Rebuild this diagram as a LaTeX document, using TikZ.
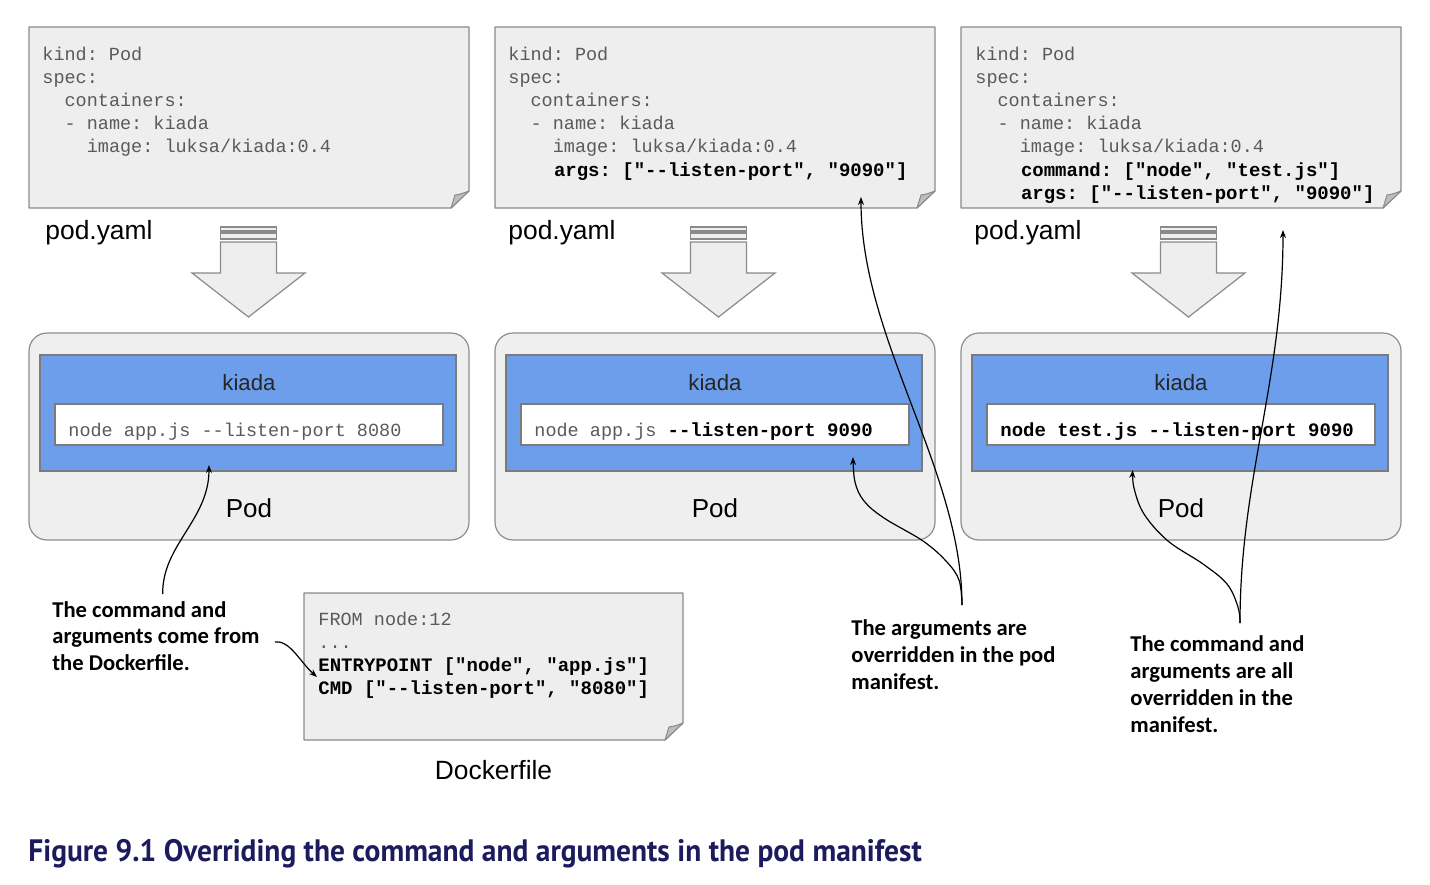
\documentclass[tikz,border=0pt]{standalone}
\usepackage{fontspec}
\setmainfont{Liberation Sans}
\setmonofont{Liberation Mono}
\newfontfamily\notefont{Carlito}
\newfontfamily\capfont[FakeStretch=0.95]{PT Sans}
\usetikzlibrary{arrows.meta}
\definecolor{docfill}{HTML}{EEEEEE}
\definecolor{docline}{HTML}{8A8A8A}
\definecolor{foldfill}{HTML}{BDBDBD}
\definecolor{podfill}{HTML}{EFEFEF}
\definecolor{podline}{HTML}{8E8E8E}
\definecolor{kblue}{HTML}{6D9EEB}
\definecolor{kline}{HTML}{7B7B7B}
\definecolor{codegray}{HTML}{5A5A5A}
\definecolor{capblue}{HTML}{1B1B5E}
\tikzset{
  docbox/.style={fill=docfill, draw=docline, line width=0.6pt, line join=round},
  foldbox/.style={fill=foldfill, draw=docline, line width=0.5pt, line join=round},
  arrowbox/.style={fill=docfill, draw=docline, line width=0.6pt},
  podbox/.style={fill=podfill, draw=podline, line width=0.6pt, rounded corners=9pt},
  bluebox/.style={fill=kblue, draw=kline, line width=0.6pt},
  whitebox/.style={fill=white, draw=kline, line width=0.6pt},
  code/.style={font=\ttfamily\fontsize{9.25}{11}\selectfont, text=codegray, anchor=base west, inner sep=0pt},
  bcode/.style={code, text=black, font=\ttfamily\bfseries\fontsize{9.5}{11}\selectfont},
  lbl/.style={font=\fontsize{13.2}{15}\selectfont, inner sep=0pt},
  kname/.style={font=\fontsize{11.1}{13}\selectfont, text=black!85, inner sep=0pt},
  podname/.style={font=\fontsize{13}{15}\selectfont, inner sep=0pt},
  note/.style={font=\notefont\bfseries\fontsize{11.3}{13.5}\selectfont, anchor=base west, inner sep=0pt},
  conn/.style={-{Stealth[length=4pt,width=3pt]}, line width=0.6pt, black},
}
\newcommand\docshape[4]{%
  \draw[docbox] (#1,#2) -- (#3,#2) -- (#3,#4-17) -- (#3-18,#4) -- (#1,#4) -- cycle;
  \draw[foldbox] (#3-18,#4) .. controls (#3-16,#4-7) .. (#3-14,#4-13) .. controls (#3-8,#4-14) .. (#3,#4-17) -- cycle;}
\newcommand\blockarrow[1]{%
  \draw[arrowbox] (#1-28,227) rectangle (#1+28,231);
  \draw[arrowbox] (#1-28,233) rectangle (#1+28,239);
  \draw[arrowbox] (#1-28,242) -- (#1+28,242) -- (#1+28,273) -- (#1+56.5,273) -- (#1,317) -- (#1-56.5,273) -- (#1-28,273) -- cycle;}
\newcommand\podshape[1]{%
  \draw[podbox] (#1,333) rectangle (#1+440,540);
  \draw[bluebox] (#1+11,355) rectangle (#1+427,471);
  \draw[whitebox] (#1+26,404) rectangle (#1+414,445);}
\begin{document}
\begin{tikzpicture}[x=0.5pt,y=-0.5pt]
\useasboundingbox (0,0) rectangle (1430,884);
% ---------- manifests ----------
\docshape{29}{27}{469}{208}
\docshape{495}{27}{935}{208}
\docshape{961}{27}{1401}{208}
\node[code] (d1l1) at (42,60) {kind: Pod};
\node[code] (d1l2) at (42,83.2) {spec:};
\node[code] (d1l3) at (42,106.4) {\ \ containers:};
\node[code] (d1l4) at (42,129.6) {\ \ - name: kiada};
\node[code] (d1l5) at (42,152.8) {\ \ \ \ image: luksa/kiada:0.4};
\node[code] (d2l1) at (508,60) {kind: Pod};
\node[code] (d2l2) at (508,83.2) {spec:};
\node[code] (d2l3) at (508,106.4) {\ \ containers:};
\node[code] (d2l4) at (508,129.6) {\ \ - name: kiada};
\node[code] (d2l5) at (508,152.8) {\ \ \ \ image: luksa/kiada:0.4};
\node[bcode] (d2l6) at (508,176) {\ \ \ \ args: ["--listen-port", "9090"]};
\node[code] (d3l1) at (975,60) {kind: Pod};
\node[code] (d3l2) at (975,83.2) {spec:};
\node[code] (d3l3) at (975,106.4) {\ \ containers:};
\node[code] (d3l4) at (975,129.6) {\ \ - name: kiada};
\node[code] (d3l5) at (975,152.8) {\ \ \ \ image: luksa/kiada:0.4};
\node[bcode] (d3l6) at (975,176) {\ \ \ \ command: ["node", "test.js"]};
\node[bcode] (d3l7) at (975,199.2) {\ \ \ \ args: ["--listen-port", "9090"]};
\node[lbl, anchor=base west] (y1) at (45,239) {pod.yaml};
\node[lbl, anchor=base west] (y2) at (508,239) {pod.yaml};
\node[lbl, anchor=base west] (y3) at (974,239) {pod.yaml};
% ---------- block arrows ----------
\blockarrow{248.5}
\blockarrow{718.5}
\blockarrow{1188.5}
% ---------- pods ----------
\podshape{29}
\podshape{495}
\podshape{961}
\node[kname] (k1) at (249,383) {kiada};
\node[kname] (k2) at (715,383) {kiada};
\node[kname] (k3) at (1181,383) {kiada};
\node[code] (c1) at (68,436) {node app.js --listen-port 8080};
\node[code] (c2) at (534,436) {node app.js \textcolor{black}{\bfseries\fontsize{9.5}{11}\selectfont --listen-port 9090}};
\node[bcode] (c3) at (1000,436) {node test.js --listen-port 9090};
\node[podname] (p1) at (249,508) {Pod};
\node[podname] (p2) at (715,508) {Pod};
\node[podname] (p3) at (1181,508) {Pod};
% ---------- Dockerfile ----------
\docshape{304}{593}{683}{740}
\node[code] (f1) at (318,625) {FROM node:12};
\node[code] (f2) at (318,648) {...};
\node[bcode] (f3) at (318,671) {ENTRYPOINT ["node", "app.js"]};
\node[bcode] (f4) at (318,694) {CMD ["--listen-port", "8080"]};
\node[lbl, anchor=base] (dlbl) at (493.5,779) {Dockerfile};
% ---------- notes ----------
\node[note] (n1a) at (52,617) {The command and};
\node[note] (n1b) at (52,643.5) {arguments come from};
\node[note] (n1c) at (52,670) {the Dockerfile.};
\node[note] (n3a) at (851,635) {The arguments are};
\node[note] (n3b) at (851,662) {overridden in the pod};
\node[note] (n3c) at (851,689) {manifest.};
\node[note] (n4a) at (1130,651) {The command and};
\node[note] (n4b) at (1130,678) {arguments are all};
\node[note] (n4c) at (1130,705) {overridden in the};
\node[note] (n4d) at (1130,732) {manifest.};
% ---------- connectors ----------
\coordinate (s1) at (162.7,594);
\coordinate (e1) at (209,465);
\coordinate (s2) at (275,642);
\coordinate (e2) at (317,677);
\coordinate (s3) at (962,605);
\coordinate (e3a) at (861,197);
\coordinate (e3b) at (853,457);
\coordinate (s4) at (1240,623);
\coordinate (e4a) at (1283,230);
\coordinate (e4b) at (1132.7,470);
\draw[conn] (s1) .. controls (162,545) and (209,520) .. (e1);
\draw[conn] (s2) .. controls (290,640) and (300,662) .. (e2);
\draw[conn] (s3) .. controls (962,470) and (861,340) .. (e3a);
\draw[conn] plot[smooth, tension=0.6] coordinates {(s3) (959,580) (946,561) (923,541) (884,518) (864,501) (855,482) (e3b)};
\draw[conn] (s4) .. controls (1240,480) and (1283,380) .. (e4a);
\draw[conn] plot[smooth, tension=0.6] coordinates {(s4) (1238,607) (1227,584) (1203,564) (1168,541) (1144,514) (1134,488) (e4b)};
% ---------- caption ----------
\node[font=\capfont\bfseries\fontsize{15.5}{18}\selectfont, text=capblue, anchor=base west, inner sep=0pt] (cap) at (28,861) {Figure 9.1 Overriding the command and arguments in the pod manifest};
\end{tikzpicture}
\end{document}
